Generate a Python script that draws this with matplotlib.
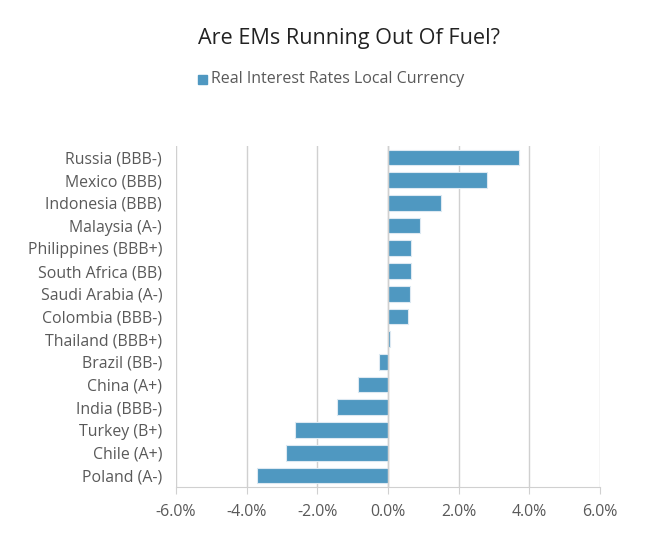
import matplotlib.pyplot as plt
import numpy as np

plt.rcParams['font.family'] = ['Open Sans', 'DejaVu Sans']

countries = ["Russia (BBB-)", "Mexico (BBB)", "Indonesia (BBB)", "Malaysia (A-)",
             "Philippines (BBB+)", "South Africa (BB)", "Saudi Arabia (A-)",
             "Colombia (BBB-)", "Thailand (BBB+)", "Brazil (BB-)", "China (A+)",
             "India (BBB-)", "Turkey (B+)", "Chile (A+)", "Poland (A-)"]
real_rates = [3.72, 2.81, 1.51, 0.91, 0.66, 0.66, 0.61, 0.56, 0.06,
              -0.25, -0.85, -1.44, -2.64, -2.90, -3.70]
x_ticks = [-6, -4, -2, 0, 2, 4, 6]

BAR = "#4F98C1"
TXT = "#595959"
GRID = "#D0D0D0"

fig = plt.figure(figsize=(6.45, 5.35), dpi=100)
ax = fig.add_axes([0.273, 0.09, 0.657, 0.637])

y = np.arange(len(countries))
ax.barh(y, real_rates, height=0.69, color=BAR, edgecolor="#DDE9F2", linewidth=0.8,
        zorder=3)

ax.set_xlim(-6, 6)
ax.set_ylim(len(countries) - 0.5, -0.5)
ax.set_xticks(x_ticks)
ax.set_xticklabels([f"{v:.1f}%" for v in x_ticks])
ax.set_yticks(y)
ax.set_yticklabels(countries)

ax.grid(axis="x", color=GRID, linewidth=1, zorder=0)
for s in ["top", "right", "left"]:
    ax.spines[s].set_visible(False)
ax.spines["bottom"].set_color(GRID)
ax.axvline(0, color=GRID, linewidth=1, zorder=4)
ax.tick_params(axis="y", length=0, pad=10, labelsize=11.4, labelcolor=TXT)
ax.tick_params(axis="x", length=5, color=GRID, pad=7, labelsize=11.4, labelcolor=TXT)

fig.text(0.541, 0.928, "Are EMs Running Out Of Fuel?", ha="center", va="center",
         fontsize=15.6, color="#222222")
fig.patches.append(plt.Rectangle((0.307, 0.843), 0.0145, 0.0175,
                                 transform=fig.transFigure, color=BAR))
fig.text(0.327, 0.852, "Real Interest Rates Local Currency", ha="left", va="center",
         fontsize=11.5, color=TXT)

fig.savefig("out.png", dpi=100)
